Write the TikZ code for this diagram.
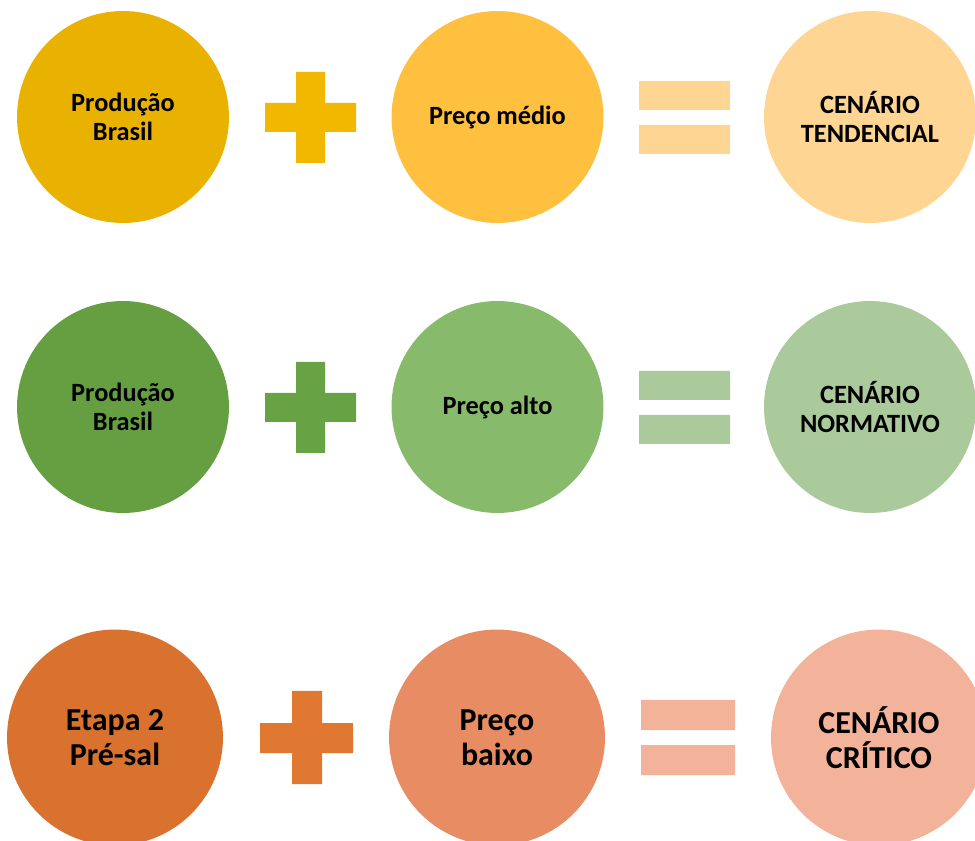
\documentclass[tikz,border=0pt]{standalone}
\usepackage{fontspec}
\setmainfont{Carlito}

\definecolor{goldA}{RGB}{233,177,0}
\definecolor{goldP}{RGB}{242,184,0}
\definecolor{goldB}{RGB}{255,192,63}
\definecolor{goldC}{RGB}{255,213,148}
\definecolor{greenA}{RGB}{101,159,65}
\definecolor{greenP}{RGB}{103,163,68}
\definecolor{greenB}{RGB}{136,186,107}
\definecolor{greenC}{RGB}{171,202,155}
\definecolor{orangeA}{RGB}{217,114,46}
\definecolor{orangeP}{RGB}{224,120,50}
\definecolor{orangeB}{RGB}{232,141,99}
\definecolor{orangeC}{RGB}{243,178,154}

\tikzset{
    bubble/.style={circle, inner sep=0pt, minimum size=4.24cm,
        align=center, font=\fontsize{15}{16.2}\selectfont\bfseries},
    bigbubble/.style={bubble, minimum size=4.32cm,
        font=\fontsize{18.2}{19.8}\selectfont\bfseries}
}

\begin{document}
\begin{tikzpicture}[x=0.02cm, y=-0.02cm]
    \clip (0,0) rectangle (975,841);

    % linha 1: cenario tendencial
    \node[bubble, fill=goldA] (prodA) at (123,117) {Produção\\Brasil};
    \fill[goldP] (265,103) rectangle (356,132) (296,72) rectangle (325,163);
    \node[bubble, fill=goldB] (precoA) at (497.5,117) {Preço médio};
    \fill[goldC] (639,81) rectangle (730,110) (639,125) rectangle (730,154);
    \node[bubble, fill=goldC] (cenA) at (870,117) {CENÁRIO\\TENDENCIAL};

    % linha 2: cenario normativo
    \node[bubble, fill=greenA] (prodB) at (123,407) {Produção\\Brasil};
    \fill[greenP] (265,393) rectangle (356,422) (296,362) rectangle (325,453);
    \node[bubble, fill=greenB] (precoB) at (497.5,407) {Preço alto};
    \fill[greenC] (639,371) rectangle (730,400) (639,415) rectangle (730,444);
    \node[bubble, fill=greenC] (cenB) at (870,407) {CENÁRIO\\NORMATIVO};

    % linha 3: cenario critico
    \node[bigbubble, fill=orangeA] (etapa) at (115,737.5) {Etapa 2\\Pré-sal};
    \fill[orangeP] (260,723) rectangle (353,753) (292,691) rectangle (322,784);
    \node[bigbubble, fill=orangeB] (precoC) at (497,737.5) {Preço\\baixo};
    \fill[orangeC] (641,700) rectangle (735,730) (641,745) rectangle (735,775);
    \node[bigbubble, fill=orangeC] (cenC) at (879,737.5) {CENÁRIO\\CRÍTICO};
\end{tikzpicture}
\end{document}
